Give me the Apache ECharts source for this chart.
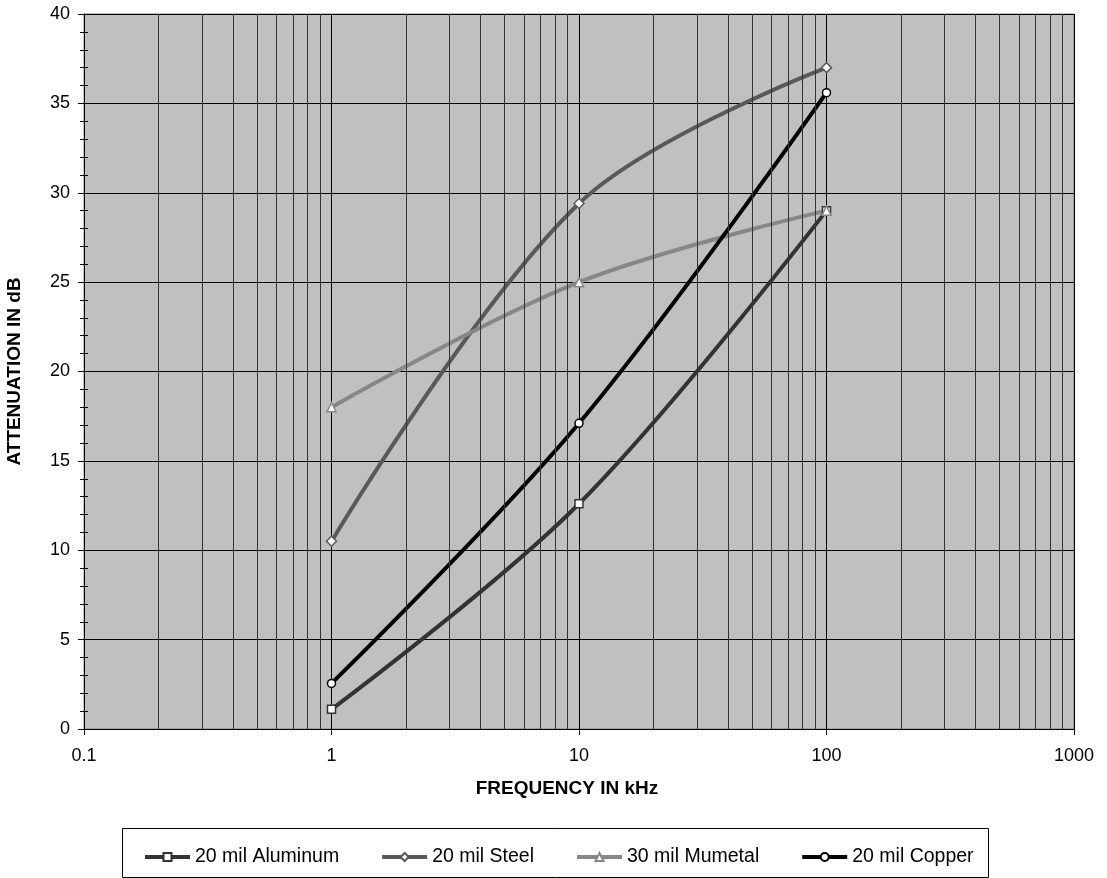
<!DOCTYPE html>
<html>
<head>
<meta charset="utf-8">
<script src="https://cdn.jsdelivr.net/npm/echarts@6/dist/echarts.min.js"></script>
<style>
html,body{margin:0;padding:0;background:#fff;}
#chart{width:1107px;height:878px;}
</style>
</head>
<body>
<div id="chart"></div>
<script>
const frequencies = [1, 10, 100];
const aluminum = [1.1, 12.6, 29.0];
const steel = [10.5, 29.4, 37.0];
const mumetal = [18.0, 25.0, 29.0];
const copper = [2.55, 17.1, 35.6];
const seriesNames = ['20 mil Aluminum', '20 mil Steel', '30 mil Mumetal', '20 mil Copper'];
const xTickLabels = ['0.1', '1', '10', '100', '1000'];
const yTickLabels = ['0', '5', '10', '15', '20', '25', '30', '35', '40'];

const decades = [0.1, 1, 10, 100];
const multipliers = [2, 3, 4, 5, 6, 7, 8, 9];
const minorGrid = [];
decades.forEach(d => multipliers.forEach(m => minorGrid.push(+(d * m).toPrecision(3))));

const font = "'Liberation Sans', Arial, sans-serif";
const pair = arr => frequencies.map((f, i) => [f, arr[i]]);

const chart = echarts.init(document.getElementById('chart'), null, {renderer: 'canvas'});

function mk(name, data, color, symbol, borderColor, z) {
  return {
    name: name, type: 'line', data: pair(data), smooth: 0.35, z: z,
    symbol: symbol, symbolSize: symbol === 'diamond' ? 10 : (symbol === 'triangle' ? 9 : 8),
    showSymbol: true,
    lineStyle: {color: color, width: 4},
    itemStyle: {color: '#ffffff', borderColor: borderColor, borderWidth: 1.5},
    emphasis: {disabled: true},
    animation: false
  };
}

chart.setOption({
  animation: false,
  textStyle: {fontFamily: font},
  grid: {left: 84, top: 14, right: 33, bottom: 149, containLabel: false, outerBoundsMode: 'none',
    show: true, backgroundColor: '#c0c0c0', borderColor: '#808080', borderWidth: 1},
  graphic: [{
    type: 'rect', left: 122, top: 828, z: -1,
    shape: {width: 866, height: 49},
    style: {fill: '#ffffff', stroke: '#000000', lineWidth: 1}
  }],
  legend: {
    left: 143, top: 847, padding: 0, itemGap: 41, itemWidth: 45, itemHeight: 10,
    data: seriesNames,
    lineStyle: {width: 4},
    textStyle: {fontFamily: font, fontSize: 19.5, color: '#000'}
  },
  xAxis: {
    type: 'log', logBase: 10, min: 0.1, max: 1000,
    name: 'FREQUENCY IN kHz', nameLocation: 'middle', nameGap: 50,
    nameTextStyle: {fontFamily: font, fontSize: 19, fontWeight: 'bold', color: '#000', padding: [0, 24, 0, 0]},
    axisLine: {show: true, lineStyle: {color: '#000', width: 1}},
    axisTick: {show: true, inside: false, length: 6, lineStyle: {color: '#000'}},
    axisLabel: {fontFamily: font, fontSize: 18, color: '#000', margin: 18,
      formatter: v => { const i = Math.round(Math.log10(v)) + 1; return xTickLabels[i]; }},
    splitLine: {show: true, lineStyle: {color: '#000', width: 1}}
  },
  yAxis: [{
    type: 'value', min: 0, max: 40, interval: 5,
    name: 'ATTENUATION IN dB', nameLocation: 'middle', nameGap: 60, nameRotate: 90,
    nameTextStyle: {fontFamily: font, fontSize: 19, fontWeight: 'bold', color: '#000'},
    axisLine: {show: true, lineStyle: {color: '#000', width: 1}},
    axisTick: {show: true, inside: false, length: 6, lineStyle: {color: '#000'}},
    minorTick: {show: true, splitNumber: 5, length: 4, lineStyle: {color: '#000'}},
    axisLabel: {fontFamily: font, fontSize: 18, color: '#000', margin: 14,
      formatter: v => yTickLabels[Math.round(v / 5)]},
    splitLine: {show: true, lineStyle: {color: '#000', width: 1}}
  }, {
    type: 'value', min: 0, max: 40, interval: 5, position: 'left',
    axisLine: {show: false},
    axisTick: {show: true, inside: true, length: 4, lineStyle: {color: '#000'}},
    minorTick: {show: true, splitNumber: 5, length: 4, lineStyle: {color: '#000'}},
    axisLabel: {show: false},
    splitLine: {show: false}
  }],
  series: [
    {
      name: 'minor-grid', type: 'line', data: [], z: 1, silent: true,
      markLine: {
        silent: true, symbol: ['none', 'none'], animation: false,
        label: {show: false},
        lineStyle: {color: '#333333', width: 1, type: 'solid'},
        emphasis: {disabled: true},
        data: minorGrid.map(v => ({xAxis: v}))
      }
    },
    mk(seriesNames[0], aluminum, '#333333', 'rect', '#333333', 3),
    mk(seriesNames[1], steel, '#595959', 'diamond', '#595959', 3),
    mk(seriesNames[2], mumetal, '#878787', 'triangle', '#878787', 3),
    mk(seriesNames[3], copper, '#000000', 'circle', '#000000', 4)
  ]
});
</script>
</body>
</html>
